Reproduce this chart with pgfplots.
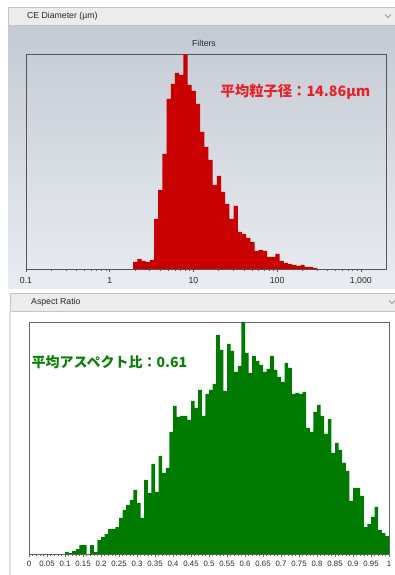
\documentclass[border=0pt]{standalone}
\usepackage{fontspec}
\setmainfont{Liberation Sans}
\newfontfamily\cjk{Noto Sans CJK JP}
\usepackage{pgfplots}
\pgfplotsset{compat=1.18}
\usepackage{pgfplotstable}
\definecolor{barred}{RGB}{200,0,0}
\definecolor{bargreen}{RGB}{0,122,0}
\definecolor{txtred}{RGB}{232,32,42}
\definecolor{txtgreen}{RGB}{12,128,12}
\definecolor{hdrfill}{RGB}{236,236,236}
\definecolor{hdrline}{RGB}{196,196,196}
\definecolor{gradtop}{RGB}{196,202,212}
\definecolor{gradbot}{RGB}{233,236,241}
\definecolor{boxline}{RGB}{85,85,85}

\pgfplotstableread{
x y
1.905 7
2.138 10
2.399 8
2.692 7
3.020 9
3.388 50
3.802 79
4.266 115
4.786 170
5.370 185
6.026 196
6.761 194
7.586 214.5
8.511 184
9.550 178
10.72 165
12.02 137
13.49 122
15.14 109
16.98 84
19.05 93
21.38 77
23.99 65
26.92 50
30.20 63
33.88 37
38.02 35
42.66 31
47.86 27
53.70 18
60.26 19
67.61 18
75.86 12
85.11 12
95.50 15
107.2 8
120.2 6
134.9 5
151.4 4
169.8 3
190.5 4
213.8 2
239.9 2
269.2 1
302.0 1
}\cedata

\pgfplotstableread{
x y
0.00 0
0.01 0
0.02 0
0.03 0
0.04 0
0.05 0
0.06 0
0.07 0
0.08 0
0.09 0
0.10 2
0.11 1
0.12 3
0.13 5
0.14 9
0.15 9
0.16 0
0.17 9
0.18 2
0.19 14
0.20 17
0.21 20
0.22 25
0.23 25
0.24 27
0.25 36
0.26 44
0.27 49
0.28 54
0.29 64
0.30 51
0.31 36
0.32 74
0.33 61
0.34 90
0.35 62
0.36 98
0.37 81
0.38 86
0.39 122
0.40 148
0.41 137
0.42 138
0.43 138
0.44 134
0.45 153
0.46 146
0.47 164
0.48 138
0.49 160
0.50 164
0.51 170
0.52 219
0.53 204
0.54 163
0.55 210
0.56 203
0.57 182
0.58 188
0.59 232
0.60 201
0.61 181
0.62 198
0.63 193
0.64 189
0.65 182
0.66 185
0.67 198
0.68 184
0.69 177
0.70 172
0.71 191
0.72 186
0.73 160
0.74 161
0.75 160
0.76 162
0.77 126
0.78 122
0.79 142
0.80 149
0.81 138
0.82 120
0.83 135
0.84 101
0.85 111
0.86 104
0.87 91
0.88 83
0.89 53
0.90 66
0.91 66
0.92 58
0.93 27
0.94 30
0.95 37
0.96 47
0.97 24
0.98 21
0.99 18
1.00 18
}\ardata

\begin{document}
\begin{tikzpicture}[x=1pt,y=1pt]
\useasboundingbox (0,0) rectangle (395,575);
\fill[white] (0,0) rectangle (395,575);
% top panel gradient
\shade[top color=gradtop, bottom color=gradbot] (8,286) rectangle (395,550);
% header 1
\draw[hdrline, fill=hdrfill] (8,550) rectangle (395,568);
\node[anchor=west, font=\fontsize{8.7}{10}\selectfont, text=black!85, inner sep=0] at (27,559) {CE Diameter (µm)};
\draw[black!55, line width=0.6pt] (385,560.5) -- (388,557.5) -- (391,560.5);
\node[font=\fontsize{8.7}{10}\selectfont, text=black!85] at (204,532) {Filters};
% header 2
\draw[hdrline, fill=hdrfill] (10,264) rectangle (396,282);
\node[anchor=west, font=\fontsize{8.7}{10}\selectfont, text=black!85, inner sep=0] at (31,273) {Aspect Ratio};
\draw[black!55, line width=0.6pt] (389,274.5) -- (392,271.5) -- (395,274.5);
% lower left strip
\fill[black!12] (9,0) rectangle (11,264);

\begin{axis}[
  at={(26pt,306pt)}, anchor=south west,
  scale only axis, width=360pt, height=214.5pt,
  xmode=log, xmin=0.1, xmax=2000, ymin=0, ymax=214.5,
  axis line style={draw=boxline, line width=0.8pt},
  ytick=\empty,
  xtick={0.1,1,10,100,1000},
  xticklabels={0.1,1,10,100,{1,000}},
  tick align=outside,
  major tick length=3pt, minor tick length=2pt,
  every tick/.style={boxline, line width=0.5pt},
  xtick pos=bottom,
  /pgf/number format/assume math mode=true,
  tick label style={font=\fontsize{8.7}{10}\selectfont, text=black!85},
  xticklabel style={yshift=-1.5pt},
  clip=true,
]
\addplot[const plot, draw=none, fill=barred] table[x=x,y=y] {\cedata} \closedcycle;
\end{axis}

\begin{axis}[
  at={(29pt,21pt)}, anchor=south west,
  scale only axis, width=360pt, height=232pt,
  xmin=0, xmax=1, ymin=0, ymax=232,
  axis line style={draw=black!60, line width=0.8pt},
  ytick=\empty,
  xtick={0,0.05,...,1.001},
  xticklabels={0,0.05,0.1,0.15,0.2,0.25,0.3,0.35,0.4,0.45,0.5,0.55,0.6,0.65,0.7,0.75,0.8,0.85,0.9,0.95,1},
  minor x tick num=4,
  tick align=outside,
  major tick length=2.5pt, minor tick length=1.5pt,
  every tick/.style={black!60, line width=0.5pt},
  xtick pos=bottom,
  /pgf/number format/assume math mode=true,
  tick label style={font=\fontsize{7.8}{9}\selectfont, text=black!85},
  xticklabel style={yshift=-1.5pt},
  clip=true,
]
\addplot[const plot, draw=none, fill=bargreen] table[x=x,y=y] {\ardata} \closedcycle;
\end{axis}

\node[anchor=west, inner sep=0, text=txtred, font=\cjk\bfseries\fontsize{14.3}{16}\selectfont] at (220.5,483.5) {平均粒子径：14.86μm};
\node[anchor=west, inner sep=0, text=txtgreen, font=\cjk\bfseries\fontsize{14}{16}\selectfont] at (31.5,212.5) {平均アスペクト比：0.61};
\end{tikzpicture}
\end{document}
